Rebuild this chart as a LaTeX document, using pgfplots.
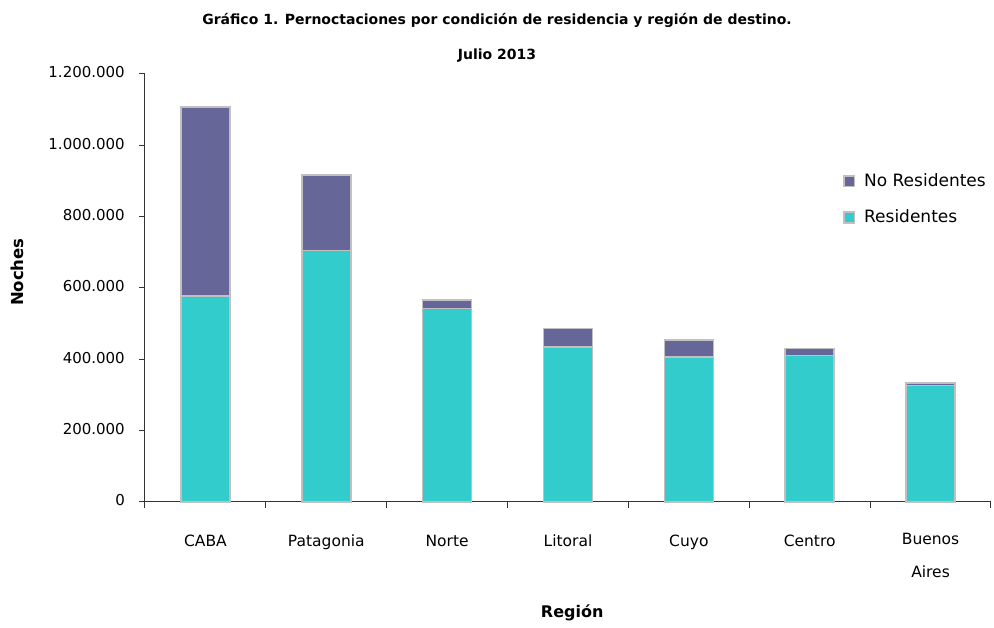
\documentclass[border=0pt]{standalone}
\usepackage{fontspec}
\setmainfont{DejaVu Sans}
\usepackage{pgfplots}
\pgfplotsset{compat=1.18}
\definecolor{nores}{HTML}{666699}
\definecolor{res}{HTML}{33CCCC}
\definecolor{edge}{HTML}{C0C0C0}
\definecolor{axisc}{HTML}{333333}
\begin{document}
\begin{tikzpicture}[x=1pt,y=1pt]
\useasboundingbox (-145,-126) rectangle (849,502);
\begin{axis}[
  at={(0pt,0pt)}, anchor=south west,
  scale only axis, width=846pt, height=428pt,
  ybar stacked, bar width=49pt,
  xmin=-0.5, xmax=6.5, ymin=0, ymax=1200000,
  axis lines*=left,
  axis line style={axisc, line width=1pt},
  tick align=outside,
  major tick length=6pt, minor tick length=6pt,
  tick style={axisc, line width=1pt},
  xtick={0,...,6},
  xticklabels={CABA,Patagonia,Norte,Litoral,Cuyo,Centro,{\raisebox{-2pt}{Buenos}\\[17pt]Aires}},
  minor xtick={-0.5,0.5,...,6.5},
  major x tick style={draw=none},
  ytick={0,200000,400000,600000,800000,1000000,1200000},
  yticklabels={0,200.000,400.000,600.000,800.000,1.000.000,1.200.000},
  scaled y ticks=false,
  yticklabel style={font=\fontsize{15}{18}\selectfont, black, inner sep=0pt, xshift=-14pt, yshift=1.5pt},
  xticklabel style={font=\fontsize{15.5}{18}\selectfont, black, align=center, anchor=north, inner sep=0pt, yshift=-25.3pt, execute at begin node={\strut}},
  xlabel={Región}, ylabel={Noches},
  xlabel style={font=\bfseries\fontsize{16}{19}\selectfont, at={(axis description cs:0.505,-0.26)}, anchor=center},
  ylabel style={font=\bfseries\fontsize{16.5}{19}\selectfont, at={(axis description cs:-0.1513,0.537)}, anchor=center},
  reverse legend,
  legend style={draw=none, fill=none, at={(0.825,0.709)}, anchor=west,
    font=\fontsize{17}{20}\selectfont, inner sep=0pt, row sep=22pt, column sep=9pt,
    nodes={inner sep=0pt}, cells={anchor=west}},
  legend image code/.code={\draw[#1] (0pt,-6pt) rectangle (10.5pt,4.5pt);},
  clip=false,
]
\addplot[fill=res, draw=edge, line width=1.5pt] coordinates {
  (0,578000) (1,705000) (2,543000) (3,435000) (4,407000) (5,411000) (6,327000)};
\addlegendentry{Residentes}
\addplot[fill=nores, draw=edge, line width=1.5pt] coordinates {
  (0,529000) (1,212000) (2,23000) (3,51000) (4,47000) (5,20000) (6,6000)};
\addlegendentry{No Residentes}
\end{axis}
\node[anchor=base, font=\bfseries\fontsize{14}{17}\selectfont] at (352,477) {Gráfico 1. Pernoctaciones por condición de residencia y región de destino.};
\node[anchor=base, font=\bfseries\fontsize{14}{17}\selectfont] at (352,442) {Julio 2013};
\end{tikzpicture}
\end{document}
